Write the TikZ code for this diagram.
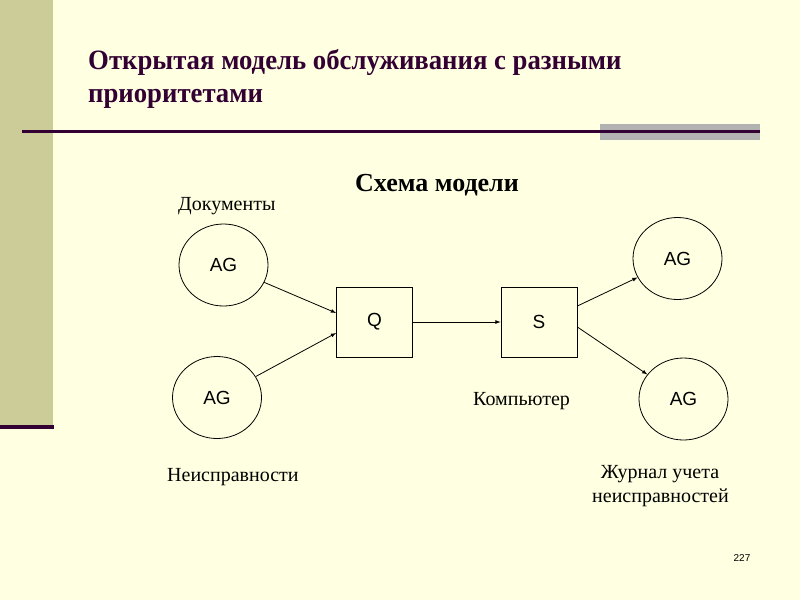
\documentclass[tikz,border=0pt]{standalone}
\usepackage{fontspec}
\setmainfont{Liberation Serif}
\newfontfamily\agfont{Liberation Sans}
\newfontfamily\titelfont[FakeStretch=0.955]{Liberation Serif}
\usetikzlibrary{shapes.geometric}
\definecolor{creme}{RGB}{255,255,225}
\definecolor{khaki}{RGB}{204,204,153}
\definecolor{dunkel}{RGB}{51,0,51}
\definecolor{grau}{RGB}{178,178,178}

\begin{document}
\begin{tikzpicture}[x=1pt,y=-1pt,>=latex,
  ag/.style={draw,ellipse,minimum width=89pt,minimum height=82pt,inner sep=0pt,line width=0.8pt,font=\agfont\fontsize{19}{22}\selectfont},
  box/.style={draw,rectangle,minimum width=76pt,minimum height=70pt,inner sep=0pt,line width=0.8pt,font=\agfont\fontsize{19}{22}\selectfont},
  lbl/.style={inner sep=0pt,font=\fontsize{20}{24}\selectfont},
  pfeil/.style={->,line width=0.8pt}]

%Hintergrund
\useasboundingbox (0,0) rectangle (800,600);
\fill[creme] (0,0) rectangle (800,600);
\fill[khaki] (0,0) rectangle (53,425);
\fill[dunkel] (0,425) rectangle (54,429);
\fill[grau] (600,124) rectangle (760,140);
\draw[dunkel, line width=3pt] (22,131) to (760,131);

%Ueberschrift
\node[anchor=base west, inner sep=0pt, text=dunkel, font=\titelfont\bfseries\fontsize{28}{33}\selectfont] (titel1) at (88,69) {Открытая модель обслуживания с разными};
\node[anchor=base west, inner sep=0pt, text=dunkel, font=\titelfont\bfseries\fontsize{28}{33}\selectfont] (titel2) at (88,102) {приоритетами};
\node[anchor=base, inner sep=0pt, font=\bfseries\fontsize{26}{30}\selectfont] (schema) at (437,191) {Схема модели};

%Knoten
\node[ag] (ag1) at (223.5,265) {AG};
\node[ag] (ag2) at (217,397.5) {AG};
\node[box] (q) at (374.5,322) {Q};
\node[box] (s) at (539,322) {S};
\node[ag] (ag3) at (677.5,258.5) {AG};
\node[ag] (ag4) at (683.5,399) {AG};

%Pfeile
\draw[pfeil] (ag1) to ([yshift=9pt]q.west);
\draw[pfeil] (ag2) to ([yshift=-11pt]q.west);
\draw[pfeil] (q) to (s);
\draw[pfeil] ([yshift=16pt]s.east) to (ag3);
\draw[pfeil] ([yshift=-5pt]s.east) to (ag4);

%Beschriftungen
\node[lbl, anchor=base west] (dok) at (178,210) {Документы};
\node[lbl, anchor=base west] (komp) at (473,405) {Компьютер};
\node[lbl, anchor=base west] (neis) at (167,481) {Неисправности};
\node[lbl, anchor=base] (jour1) at (660,478) {Журнал учета};
\node[lbl, anchor=base] (jour2) at (660.5,502) {неисправностей};
\node[inner sep=0pt, anchor=base, font=\agfont\fontsize{10}{12}\selectfont] (seite) at (742,561) {227};

\end{tikzpicture}
\end{document}
